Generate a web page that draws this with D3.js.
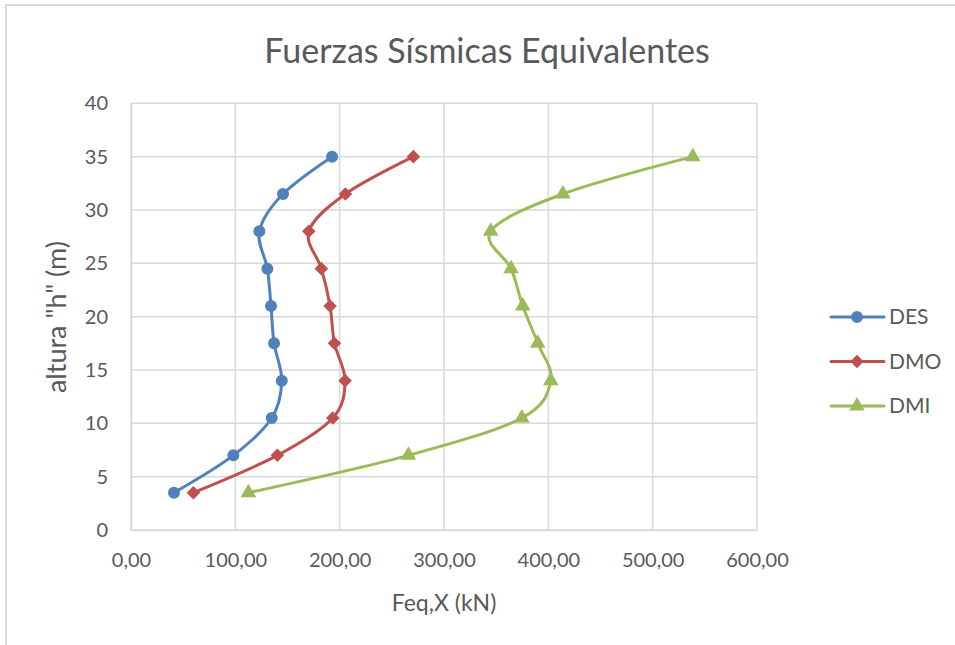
<!DOCTYPE html>
<html>
<head>
<meta charset="utf-8">
<script src="https://cdn.jsdelivr.net/npm/d3@7"></script>
<style>
  html, body { margin: 0; padding: 0; background: #ffffff; }
  svg { display: block; font-family: Lato, "Open Sans", sans-serif; }
</style>
</head>
<body>
<svg id="chart" width="955" height="645"></svg>
<script>
// Storey heights (m) and equivalent seismic forces (kN) per design level
const heights = [3.5, 7, 10.5, 14, 17.5, 21, 24.5, 28, 31.5, 35];
const des = [41.2, 98.1, 134.9, 144.5, 137.1, 134.2, 130.7, 123.0, 145.7, 192.7];
const dmo = [59.8, 140.3, 193.4, 205.2, 195.0, 190.8, 182.5, 170.4, 205.5, 270.7];
const dmi = [112.5, 265.9, 374.6, 402.4, 389.9, 375.5, 364.3, 344.8, 413.9, 538.5];

const seriesNames = ["DES", "DMO", "DMI"];
const seriesColors = ["#4F81BD", "#C0504D", "#9BBB59"];
const seriesShapes = ["circle", "diamond", "triangle"];

const xTicks = [0, 100, 200, 300, 400, 500, 600];
const yTicks = [0, 5, 10, 15, 20, 25, 30, 35, 40];

const titleText = "Fuerzas Sísmicas Equivalentes";
const xTitle = "Feq,X (kN)";
const yTitle = "altura \"h\" (m)";

const series = [des, dmo, dmi].map((vals, i) => ({
  name: seriesNames[i],
  color: seriesColors[i],
  shape: seriesShapes[i],
  points: vals.map((v, j) => ({ x: v, h: heights[j] }))
}));

const svg = d3.select("#chart");
const plot = { left: 131, right: 757, top: 103.3, bottom: 530 };

// chart frame
svg.append("rect")
  .attr("x", 6).attr("y", 5)
  .attr("width", 1000).attr("height", 700)
  .attr("fill", "none").attr("stroke", "#d9d9d9").attr("stroke-width", 2);

const x = d3.scaleLinear().domain([0, 600]).range([plot.left, plot.right]);
const y = d3.scaleLinear().domain([0, 40]).range([plot.bottom, plot.top]);

// gridlines
const grid = svg.append("g");
grid.selectAll("line.v").data(xTicks).join("line")
  .attr("x1", d => x(d)).attr("x2", d => x(d))
  .attr("y1", plot.top).attr("y2", plot.bottom)
  .attr("stroke", "#d9d9d9").attr("stroke-width", 1.5);
grid.selectAll("line.h").data(yTicks).join("line")
  .attr("x1", plot.left).attr("x2", plot.right)
  .attr("y1", d => y(d)).attr("y2", d => y(d))
  .attr("stroke", "#d9d9d9").attr("stroke-width", 1.5);

// axes
const fmt = d => d.toFixed(2).replace(".", ",");
const xAxis = svg.append("g")
  .attr("transform", `translate(0,${plot.bottom})`)
  .call(d3.axisBottom(x).tickValues(xTicks).tickFormat(fmt).tickSize(0).tickPadding(23));
const yAxis = svg.append("g")
  .attr("transform", `translate(${plot.left},0)`)
  .call(d3.axisLeft(y).tickValues(yTicks).tickSize(0).tickPadding(23));
[xAxis, yAxis].forEach(a => {
  a.select(".domain").attr("stroke", "#d9d9d9").attr("stroke-width", 1.5);
  a.selectAll("text").attr("fill", "#595959").style("font-size", "20px")
    .style("font-family", "Lato, 'Open Sans', sans-serif");
});

// curves (smoothed)
const line = d3.line()
  .x(d => x(d.x)).y(d => y(d.h))
  .curve(d3.curveCatmullRom.alpha(0));

// square diamond (rotated square), equal width and height
const squareDiamond = {
  draw(ctx, size) {
    const r = Math.sqrt(size / 2);
    ctx.moveTo(0, -r); ctx.lineTo(r, 0); ctx.lineTo(0, r); ctx.lineTo(-r, 0); ctx.closePath();
  }
};
const symbolFor = s => s === "circle" ? d3.symbolCircle : s === "diamond" ? squareDiamond : d3.symbolTriangle;
const symbolSize = s => s === "circle" ? 113 : s === "diamond" ? 92 : 105;

series.forEach(s => {
  svg.append("path")
    .datum(s.points)
    .attr("d", line)
    .attr("fill", "none")
    .attr("stroke", s.color)
    .attr("stroke-width", 3)
    .attr("stroke-linejoin", "round")
    .attr("stroke-linecap", "round");
  svg.append("g").selectAll("path").data(s.points).join("path")
    .attr("transform", d => `translate(${x(d.x)},${y(d.h)})`)
    .attr("d", d3.symbol().type(symbolFor(s.shape)).size(symbolSize(s.shape)))
    .attr("fill", s.color);
});

// titles
svg.append("text")
  .attr("x", 487).attr("y", 63)
  .attr("text-anchor", "middle")
  .attr("fill", "#595959")
  .style("font-size", "34px").style("font-weight", 400)
  .text(titleText);
svg.append("text")
  .attr("x", x(300)).attr("y", 611)
  .attr("text-anchor", "middle")
  .attr("fill", "#595959")
  .style("font-size", "23px")
  .text(xTitle);
svg.append("text")
  .attr("transform", "translate(66,317) rotate(-90)")
  .attr("text-anchor", "middle")
  .attr("fill", "#595959")
  .style("font-size", "27px")
  .text(yTitle);

// legend
const legend = svg.append("g");
series.forEach((s, i) => {
  const ly = [317, 361.5, 406][i];
  const g = legend.append("g").attr("transform", `translate(0,${ly})`);
  g.append("line").attr("x1", 831).attr("x2", 884).attr("y1", 0).attr("y2", 0)
    .attr("stroke", s.color).attr("stroke-width", 3).attr("stroke-linecap", "round");
  g.append("path").attr("transform", "translate(857,0)")
    .attr("d", d3.symbol().type(symbolFor(s.shape)).size(symbolSize(s.shape)))
    .attr("fill", s.color);
  g.append("text").attr("x", 889).attr("y", 0).attr("dy", "0.35em")
    .attr("fill", "#595959").style("font-size", "21px").text(s.name);
});
</script>
</body>
</html>
